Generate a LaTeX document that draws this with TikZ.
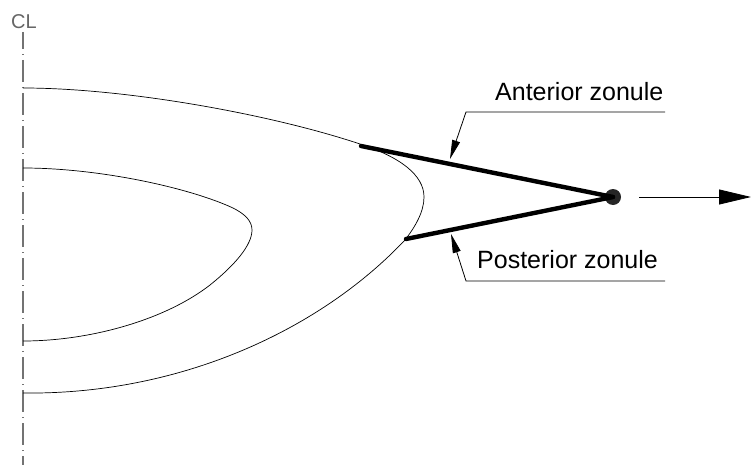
\documentclass[tikz,border=0pt]{standalone}
\usepackage{fontspec}
\setmainfont{Liberation Sans}
\usetikzlibrary{arrows.meta}

\tikzset{
    zonule/.style={line width=4.4pt, line cap=round, black},
    lens/.style={line width=0.7pt, black},
    leader/.style={line width=0.8pt, black},
    label/.style={inner sep=0pt, anchor=base west, font=\fontsize{25}{28}\selectfont},
}

\begin{document}
\begin{tikzpicture}[x=1pt,y=-1pt]
                \useasboundingbox (0,0) rectangle (751,465);

                \node[inner sep=0pt, anchor=base west, text=black!60, font=\fontsize{20}{22}\selectfont] (cl) at (11,29) {CL};
                \coordinate (axistop) at (23,32);
                \coordinate (axisbottom) at (23,465);
                \draw[black!55, line width=1.2pt, dash pattern=on 22pt off 5pt on 1pt off 5pt, dash phase=5pt] (axistop) -- (axisbottom);

                % lens outlines
                \draw[lens] (23,88) .. controls (125,88) and (270,114) .. (360,144)
                    .. controls (400,157) and (424,175) .. (424,197)
                    .. controls (424,212) and (415,227) .. (405,240)
                    .. controls (320,330) and (180,395) .. (23,393);
                \draw[lens] (23,168) .. controls (100,168) and (190,188) .. (233,208)
                    .. controls (245,214) and (252,221) .. (252,230)
                    .. controls (252,245) and (235,265) .. (210,285)
                    .. controls (165,320) and (90,341) .. (23,341);

                % zonules and the ciliary point
                \coordinate (anteriorend) at (361,146);
                \coordinate (posteriorend) at (406,239);
                \node[circle, fill=black!85, minimum size=16pt, inner sep=0pt] (ciliary) at (613,197) {};
                \draw[zonule] (anteriorend) to (ciliary.center);
                \draw[zonule] (posteriorend) to (ciliary.center);

                % pull direction
                \coordinate (pullstart) at (639,197);
                \coordinate (pullend) at (751,197);
                \draw[-{Triangle[length=32pt,width=15pt]}, leader] (pullstart) to (pullend);

                % labels with their leaders
                \node[label] (anterior) at (495,101) {Anterior zonule};
                \node[label] (posterior) at (477,268) {Posterior zonule};
                \coordinate (anteriorright) at (665,112);
                \coordinate (anteriorbend) at (466,112);
                \coordinate (anteriortip) at (450,159);
                \coordinate (posteriorright) at (665,281);
                \coordinate (posteriorbend) at (466,281);
                \coordinate (posteriortip) at (451,234);
                \draw[-{Triangle[length=19pt,width=8pt]}, leader] (anteriorright) -- (anteriorbend) -- (anteriortip);
                \draw[-{Triangle[length=19pt,width=8pt]}, leader] (posteriorright) -- (posteriorbend) -- (posteriortip);
            \end{tikzpicture}
\end{document}
